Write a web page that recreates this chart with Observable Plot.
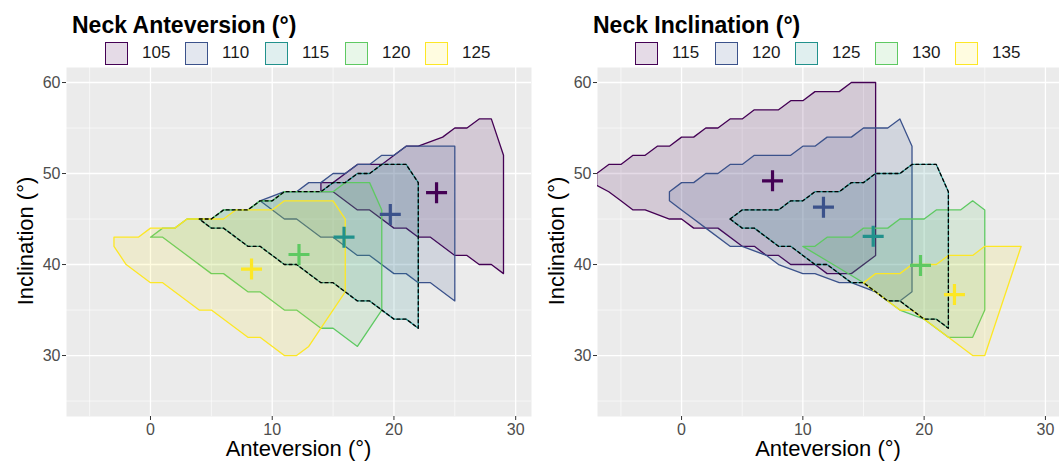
<!DOCTYPE html>
<html><head><meta charset="utf-8">
<script src="https://cdn.jsdelivr.net/npm/d3@7"></script>
<script src="https://cdn.jsdelivr.net/npm/@observablehq/plot@0.6"></script>
<style>
body{margin:0;background:#fff;font-family:"Liberation Sans",Arial,sans-serif;}
#wrap{position:relative;width:1059px;height:462px;overflow:hidden;background:#fff}
.svgbox{position:absolute;top:67px}
.title{position:absolute;top:14px;font-weight:bold;font-size:23px;line-height:23px;color:#000;white-space:nowrap}
.legend{position:absolute;top:41px;height:24px}
.item{position:absolute;top:0;display:flex;align-items:center;height:24px}
.sw{width:21px;height:21px;border:1.5px solid;box-sizing:content-box}
.lab{margin-left:14px;font-size:17px;color:#1a1a1a}
.xt{position:absolute;top:436px;font-size:22px;transform:translateX(-50%);white-space:nowrap;color:#000}
.yt{position:absolute;font-size:22px;white-space:nowrap;color:#000;transform:translate(-50%,-50%) rotate(-90deg)}
</style></head>
<body><div id="wrap"></div>
<script>
// ---------- data ----------
const colors = ["#440154", "#3b528b", "#21918c", "#5ec962", "#fde725"];
const anteversionGroups = ["105", "110", "115", "120", "125"];
const inclinationGroups = ["115", "120", "125", "130", "135"];
const xTicks = [0, 10, 20, 30];
const yTicks = [30, 40, 50, 60];
const xMinor = [-5, 5, 15, 25];
const yMinor = [25, 35, 45, 55];

// Left panel: polygons (anteversion, inclination)
const ant105 = [[14,48],[14,49],[15,49],[17,51],[19,51],[21,53],[22,53],[24,54],[25,55],[26,55],[27,56],[28,56],[29,52],[29,39],[28,40],[27,40],[26,41],[25,41],[23,43],[22,43],[21,44],[20,44],[18,46],[17,46],[15,48]];
const ant110 = [[9,47],[11,48],[12,48],[13,49],[14,49],[15,50],[16,50],[17,51],[18,51],[19,52],[20,52],[21,53],[25,53],[25,36],[23,38],[22,38],[21,39],[20,39],[18,41],[17,41],[15,43],[14,43],[12,45],[11,45]];
const ant115 = [[4,45],[5,45],[6,46],[8,46],[9,47],[10,47],[11,48],[14,48],[15,49],[16,49],[17,50],[18,50],[19,51],[21,51],[22,49],[22,33],[21,34],[20,34],[18,36],[17,36],[15,38],[14,38],[12,40],[11,40],[9,42],[8,42],[6,44],[5,44]];
const ant120 = [[0,43],[1,44],[2,44],[3,45],[5,45],[6,46],[8,46],[9,47],[10,47],[11,48],[15,48],[16,49],[18,49],[19,46],[19,35],[17,31],[15,33],[14,33],[12,35],[11,35],[9,37],[8,37],[6,39],[5,39],[1,43]];
const ant125 = [[-3,43],[-1,43],[0,44],[2,44],[3,45],[6,45],[7,46],[10,46],[11,47],[15,47],[16,45],[16,37],[14,33],[13,31],[12,30],[11,30],[9,32],[8,32],[5,35],[4,35],[1,38],[0,38],[-2,40],[-3,42]];
const antCentroids = [[23.5,47.9],[19.7,45.5],[15.9,43.0],[12.2,41.1],[8.3,39.5]];

// Right panel: polygons (anteversion, inclination)
const inc115 = [[-7,50],[-6,51],[-5,51],[-4,52],[-3,52],[-2,53],[-1,53],[0,54],[1,54],[2,55],[3,55],[4,56],[5,56],[6,57],[8,57],[9,58],[10,58],[11,59],[13,59],[14,60],[16,60],[16,41],[14,39],[12,39],[11,40],[9,40],[8,41],[7,41],[6,42],[5,42],[3,44],[1,44],[0,45],[-1,45],[-3,46],[-4,46],[-5,47],[-6,48],[-7,48.7]];
const inc120 = [[-1,47],[-1,48],[0,49],[1,49],[2,50],[3,50],[4,51],[5,51],[6,52],[9,52],[10,53],[11,53],[12,54],[14,54],[15,55],[17,55],[18,56],[19,53],[19,37],[18,36],[17,36],[16,37],[14,38],[13,38],[11,39],[10,39],[8,40],[7,41],[5,42],[4,42],[2,44],[1,45],[0,46]];
const inc125 = [[4,45],[5,46],[8,46],[9,47],[10,47],[11,48],[13,48],[14,49],[15,49],[16,50],[18,50],[19,51],[21,51],[22,48],[22,33],[21,34],[20,34],[18,36],[17,36],[15,38],[14,38],[12,40],[11,40],[9,42],[8,42],[6,44],[5,44]];
const inc130 = [[10,42],[11,42],[12,43],[14,43],[15,44],[17,44],[18,45],[20,45],[21,46],[23,46],[24,47],[25,46],[25,35],[24,32],[22,32],[21,33],[20,34],[18,35],[17,36],[15,38]];
const inc135 = [[15,38],[16,39],[18,39],[19,40],[21,40],[22,41],[24,41],[25,42],[28,42],[25,30],[24,30],[22,32],[19,35],[18,35],[17,36]];
const incCentroids = [[7.5,49.2],[11.7,46.3],[15.8,43.1],[19.7,39.9],[22.5,36.7]];

// ---------- drawing ----------
const plusSymbol = {
  draw(ctx, size) {
    const r = Math.sqrt(size / Math.PI);
    ctx.moveTo(-r, 0); ctx.lineTo(r, 0);
    ctx.moveTo(0, -r); ctx.lineTo(0, r);
  }
};

function makePanel(polys, groups, centroids, xDomain, width) {
  const rows = [];
  polys.forEach((p, i) => p.forEach(([x, y]) => rows.push({x, y, g: groups[i]})));
  const cents = centroids.map(([x, y], i) => ({x, y, g: groups[i]}));
  const dashed = rows.filter(d => d.g === groups[2]);
  return Plot.plot({
    width, height: 395,
    marginTop: 0, marginBottom: 46, marginLeft: 66, marginRight: 0,
    x: {domain: xDomain},
    y: {domain: [23.3, 61.65]},
    color: {domain: groups, range: colors},
    style: {fontFamily: "'Liberation Sans', Arial, sans-serif", background: "transparent", overflow: "visible"},
    marks: [
      Plot.frame({fill: "#ebebeb", stroke: null}),
      Plot.gridX(xMinor, {stroke: "#fff", strokeOpacity: 1, strokeWidth: 0.6}),
      Plot.gridY(yMinor, {stroke: "#fff", strokeOpacity: 1, strokeWidth: 0.6}),
      Plot.gridX(xTicks, {stroke: "#fff", strokeOpacity: 1, strokeWidth: 1.3}),
      Plot.gridY(yTicks, {stroke: "#fff", strokeOpacity: 1, strokeWidth: 1.3}),
      Plot.line(rows, {x: "x", y: "y", z: "g", fill: "g", fillOpacity: 0.14, stroke: "g", strokeWidth: 1.3, curve: "linear-closed", clip: true}),
      Plot.line(dashed, {x: "x", y: "y", stroke: "#000", strokeWidth: 1.3, strokeDasharray: "3,3", curve: "linear-closed", clip: true}),
      Plot.dot(cents, {x: "x", y: "y", stroke: "g", symbol: plusSymbol, r: 10.5, strokeWidth: 3.2}),
      Plot.axisX(xTicks, {tickSize: 4, tickPadding: 3, stroke: "#333", fill: "#4d4d4d", fontSize: 16, label: null}),
      Plot.axisY(yTicks, {tickSize: 4, tickPadding: 2, stroke: "#333", fill: "#4d4d4d", fontSize: 16, label: null})
    ]
  });
}

const wrap = document.getElementById("wrap");
function addPanel(left, width, title, titleX, legendX, groups, polys, cents, xDomain) {
  const t = document.createElement("div");
  t.className = "title"; t.style.left = titleX + "px"; t.textContent = title;
  wrap.appendChild(t);
  groups.forEach((g, i) => {
    const it = document.createElement("div");
    it.className = "item"; it.style.left = (legendX + i * 80) + "px"; it.style.top = "41px";
    const sw = document.createElement("div");
    sw.className = "sw"; sw.style.borderColor = colors[i];
    const c = d3.color(colors[i]); c.opacity = 0.14; sw.style.background = c.formatRgb();
    const lb = document.createElement("span"); lb.className = "lab"; lb.textContent = g;
    it.appendChild(sw); it.appendChild(lb); wrap.appendChild(it);
  });
  const box = document.createElement("div");
  box.className = "svgbox"; box.style.left = left + "px";
  box.appendChild(makePanel(polys, groups, cents, xDomain, width));
  wrap.appendChild(box);
  const xt = document.createElement("div");
  xt.className = "xt"; xt.style.left = (left + 66 + (width - 66) / 2) + "px"; xt.textContent = "Anteversion (°)";
  wrap.appendChild(xt);
  const yt = document.createElement("div");
  yt.className = "yt"; yt.style.left = (left + 26) + "px"; yt.style.top = "241px"; yt.textContent = "Inclination (°)";
  wrap.appendChild(yt);
}

addPanel(0, 531, "Neck Anteversion (°)", 72, 105, anteversionGroups,
  [ant105, ant110, ant115, ant120, ant125], antCentroids, [-6.9, 31.3]);
addPanel(531, 528, "Neck Inclination (°)", 593, 635, inclinationGroups,
  [inc115, inc120, inc125, inc130, inc135], incCentroids, [-6.93, 31.16]);
</script></body></html>
